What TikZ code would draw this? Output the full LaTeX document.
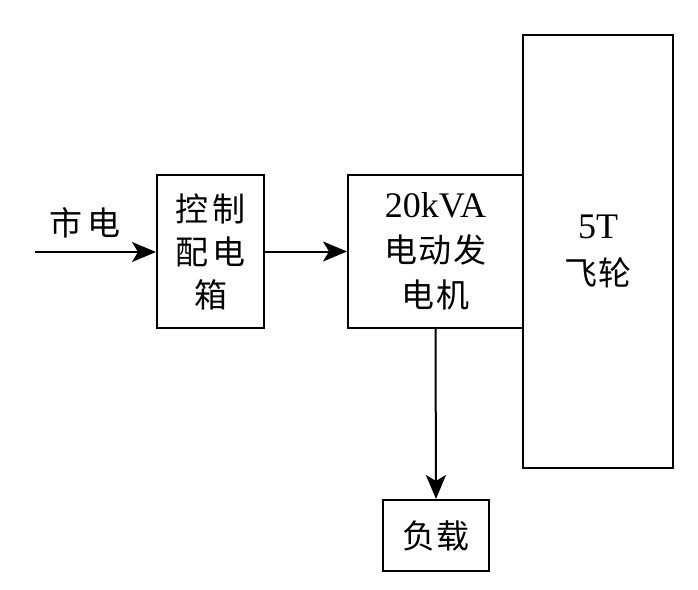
\documentclass[tikz,border=0pt]{standalone}
\usepackage{fontspec}
\setmainfont{Liberation Serif}
\newfontfamily\cjk{Noto Sans CJK SC}
\usetikzlibrary{arrows.meta}
\tikzset{
  box/.style={draw, line width=2bp, inner sep=0pt, align=center},
  arr/.style={draw, line width=2bp, -{Stealth[length=24bp,width=20bp,inset=6bp]}},
  txt/.style={font=\fontsize{33bp}{43bp}\selectfont\cjk, inner sep=0pt}
}
\begin{document}
\begin{tikzpicture}[x=1bp,y=-1bp]
\useasboundingbox (0,0) rectangle (698,590);
\node[box, minimum width=107bp, minimum height=153bp,
      font=\fontsize{33bp}{43bp}\selectfont\cjk] (b1) at (210.5,251.5)
  {控\kern5bp 制\\配\kern5bp 电\\箱};
\node[box, minimum width=175bp, minimum height=153bp,
      font=\fontsize{33bp}{45bp}\selectfont] (b2) at (435.5,251.5)
  {\fontsize{36bp}{45bp}\selectfont 20kVA\\{\cjk 电\kern2bp 动\kern2bp 发}\\{\cjk 电\kern2bp 机}};
\node[box, minimum width=150bp, minimum height=433bp,
      font=\fontsize{33bp}{47bp}\selectfont] (b3) at (598,251.5)
  {\fontsize{36bp}{47bp}\selectfont 5T\\{\cjk 飞\kern2bp 轮}};
\node[box, minimum width=106bp, minimum height=71bp,
      font=\fontsize{33bp}{43bp}\selectfont\cjk] (load) at (436,535.5)
  {负\kern2bp 载};
\node[txt] (mains) at (85,223) {市\kern6bp 电};
\coordinate (in) at (35,252);
\path[arr] (in) -- (in -| b1.west);
\path[arr] (b1.east) -- (b2.west);
\path[arr] (b2.south) -- (load.north);
\end{tikzpicture}
\end{document}
